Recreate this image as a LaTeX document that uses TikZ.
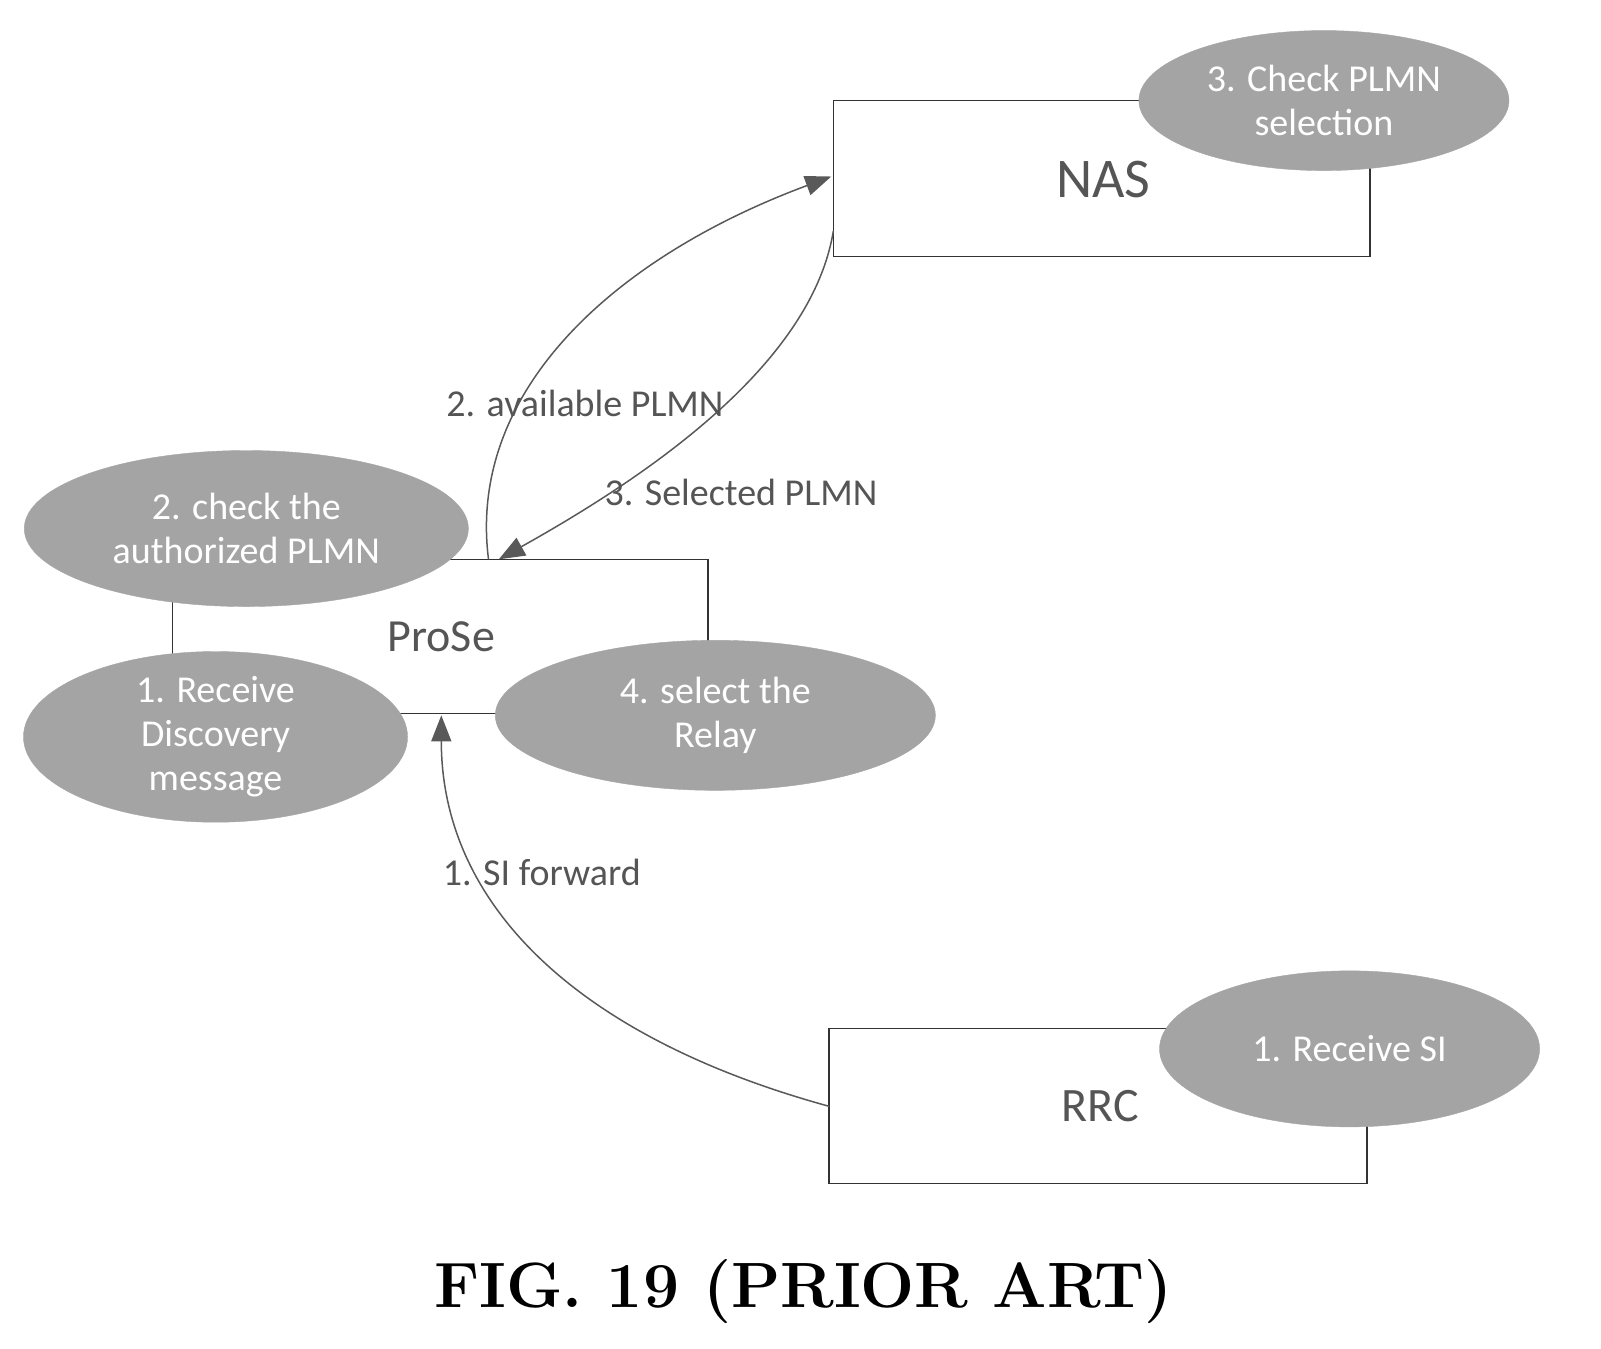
\documentclass[tikz,border=0pt]{standalone}
\usepackage{fontspec}
\setmainfont{Carlito}
\newfontfamily\capfont{Latin Modern Roman}
\usetikzlibrary{shapes.geometric,arrows.meta}
\definecolor{eg}{HTML}{A4A4A4}
\definecolor{tg}{HTML}{555555}
\begin{document}
\begin{tikzpicture}[x=1.026pt,y=-1.026pt,
 box/.style={draw=black!80,line width=1.5pt},
 ell/.style={ellipse,fill=eg,draw=eg,inner sep=0pt,align=center,text=white,font=\fontsize{38}{44}\selectfont},
 lab/.style={text=tg,font=\fontsize{38}{44}\selectfont},
 arr/.style={draw=black!65,line width=1.5pt,-{Triangle[length=26pt,width=20pt]}}]
\useasboundingbox (0,0) rectangle (1560,1314);
\draw[box] (812,98) rectangle (1335,250);
\node[text=tg,font=\fontsize{56}{60}\selectfont] (nas) at (1075,175) {NAS};
\node[ell,minimum width=370,minimum height=140] (e3) at (1290,98) {3. Check PLMN\\selection};
\draw[box] (168,545) rectangle (690,695);
\node[text=tg,font=\fontsize{46}{50}\selectfont] (prose) at (430,620) {ProSe};
\node[ell,minimum width=444,minimum height=156] (e2) at (240,515) {2. check the\\authorized PLMN};
\node[ell,minimum width=384,minimum height=160] (e1) at (210,718) {1. Receive\\Discovery\\message};
\node[ell,minimum width=440,minimum height=150] (e4) at (697,697) {4. select the\\Relay};
\draw[box] (808,1002) rectangle (1332,1153);
\node[text=tg,font=\fontsize{48}{52}\selectfont] (rrc) at (1072,1078) {RRC};
\node[ell,minimum width=380,minimum height=156] (e5) at (1315,1022) {1. Receive SI};
\coordinate (pt) at (476,545);
\coordinate (pt2) at (486,545);
\coordinate (nl) at (810,172);
\coordinate (nl2) at (812,225);
\coordinate (pb) at (430,697);
\coordinate (rl) at (808,1078);
\draw[arr] (pt) .. controls (455,380) and (600,250) .. (nl);
\draw[arr] (nl2) .. controls (790,360) and (620,470) .. (pt2);
\draw[arr] (rl) .. controls (560,1010) and (430,880) .. (pb);
\node[lab] (l1) at (570,393) {2. available PLMN};
\node[lab] (l2) at (722,480) {3. Selected PLMN};
\node[lab] (l3) at (528,850) {1. SI forward};
\node[font=\capfont\bfseries\fontsize{64}{70}\selectfont] (cap) at (783,1258) {FIG. 19 (PRIOR ART)};
\end{tikzpicture}
\end{document}
